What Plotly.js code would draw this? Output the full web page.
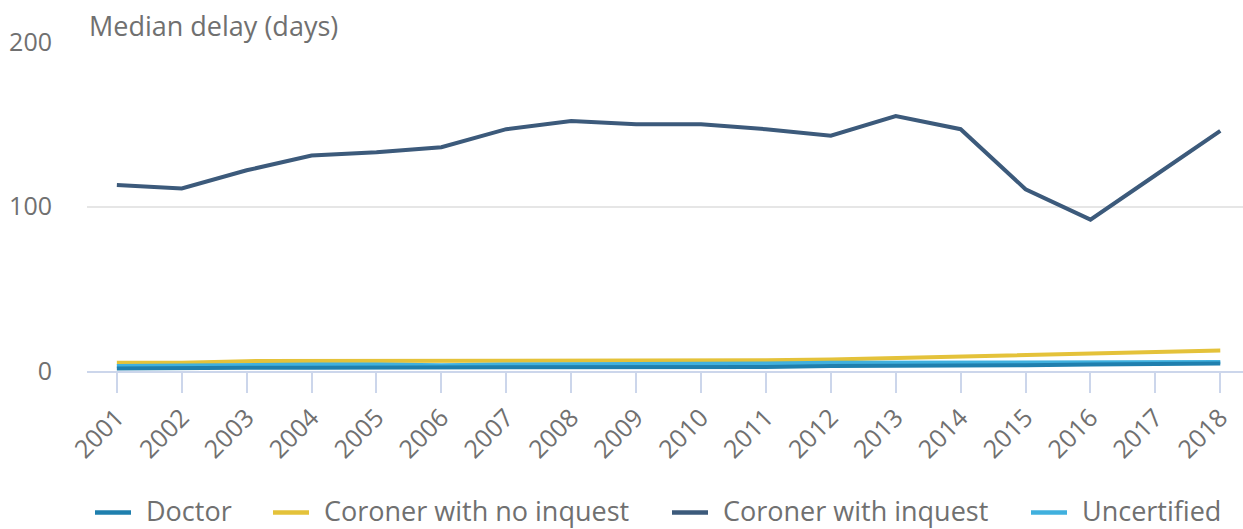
<!DOCTYPE html>
<html>
<head>
<meta charset="utf-8">
<script src="https://cdn.plot.ly/plotly-3.0.1.min.js"></script>
<style>html,body{margin:0;padding:0;background:#fff;}#chart{width:1243px;height:529px;}</style>
</head>
<body>
<div id="chart"></div>
<script>
const years = [2001,2002,2003,2004,2005,2006,2007,2008,2009,2010,2011,2012,2013,2014,2015,2016,2017,2018];
const doctor = [1.5,2,2,2,2,2,2,2,2,2,2.5,3,3,3,3.5,4,4,4.5];
const coronerNoInquest = [5,5,6,6,6,6,6,6,6.5,6.5,6.5,7,8,9,10,11,12,12.5];
const coronerWithInquest = [113,111,122,131,133,136,147,152,150,150,147,143,155,147,110.5,92,119,146];
const uncertified = [3,3.5,4,4,4,3.5,4,4,4,4,4.5,5,5,5,5,5.5,5.5,5.5];
const seriesNames = ["Doctor","Coroner with no inquest","Coroner with inquest","Uncertified"];
const colors = ["#1f7fae","#e4c23a","#3c5a7b","#40b0de"];
const seriesData = [doctor, coronerNoInquest, coronerWithInquest, uncertified];

const traces = seriesNames.map((n,i)=>({
  x: years, y: seriesData[i], name: n, type:'scatter', mode:'lines',
  line:{color:colors[i], width:4}
}));
const drawOrder = [2,1,3,0].map(i=>traces[i]);

// plot area geometry (pixels)
const L = 87, R = 0, T = 42, B = 158, W = 1243, H = 529;
const pw = W - L - R, ph = H - T - B;
const px2x = px => (px - L) / pw;
const py2y = py => (H - B - py) / ph;

// custom legend (Highcharts-like spacing)
const legendSampleX = [95, 273, 672, 1031];
const sampleY = 512.5, textY = 510.5;
const shapes = [];
const annotations = [{text:'Median delay (days)', xref:'paper', yref:'paper', x:0, y:1, xanchor:'left', yanchor:'bottom', yshift:-4, showarrow:false, font:{size:27, color:'#707070'}}];
seriesNames.forEach((n,i)=>{
  const sx = legendSampleX[i];
  shapes.push({type:'line', xref:'paper', yref:'paper', x0:px2x(sx), x1:px2x(sx+36), y0:py2y(sampleY), y1:py2y(sampleY), line:{color:colors[i], width:4.5}});
  annotations.push({text:n, xref:'paper', yref:'paper', x:px2x(sx+49), y:py2y(textY), xanchor:'left', yanchor:'middle', showarrow:false, font:{size:27, color:'#707070'}});
});

const font = "'Open Sans', sans-serif";
const layout = {
  width:W, height:H,
  margin:{l:L, r:R, t:T, b:B},
  paper_bgcolor:'#fff', plot_bgcolor:'#fff',
  font:{family:font, color:'#707070', size:25},
  showlegend:false,
  xaxis:{
    range:[2000.54, 2018.35], tickmode:'array', tickvals: years, ticktext: years.map(String),
    tickangle:-45, ticks:'outside', ticklen:20, tickwidth:2, tickcolor:'#ccd6eb',
    showline:true, linecolor:'#ccd6eb', linewidth:2, showgrid:false, zeroline:false,
    tickfont:{size:25, color:'#707070'}, automargin:false
  },
  yaxis:{
    range:[0,200], tickvals:[0,100,200], showgrid:true, gridcolor:'#e6e6e6', gridwidth:2,
    zeroline:false, showline:false, ticks:'', ticklabelstandoff:34,
    tickfont:{size:25, color:'#707070'}, automargin:false
  },
  shapes: shapes,
  annotations: annotations
};
Plotly.newPlot('chart', drawOrder, layout, {displayModeBar:false, staticPlot:true});
</script>
</body>
</html>
